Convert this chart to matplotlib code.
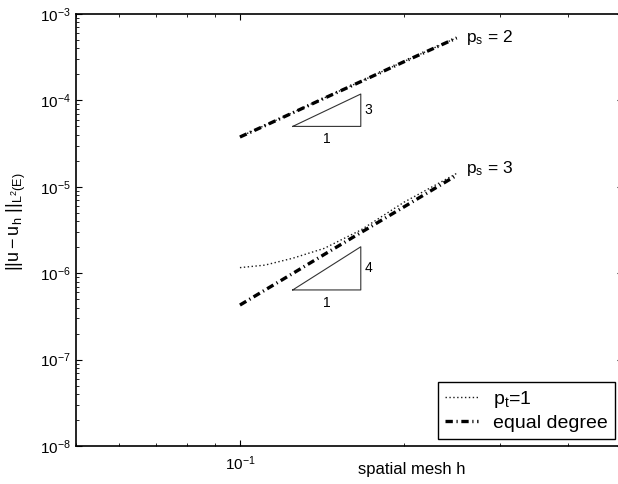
import numpy as np
import matplotlib
matplotlib.use("Agg")
import matplotlib.pyplot as plt

plt.rcParams['font.family'] = ['Liberation Sans', 'DejaVu Sans']
plt.rcParams['mathtext.fontset'] = 'custom'
plt.rcParams['mathtext.rm'] = 'Liberation Sans'
plt.rcParams['mathtext.it'] = 'Liberation Sans:italic'
plt.rcParams['mathtext.default'] = 'regular'

# mesh sizes h = 1/10 ... 1/4
h = [1/10, 1/9, 1/8, 1/7, 1/6, 1/5, 1/4]

# p_s = 2
err_eq_p2 = [3.77e-5, 5.10e-5, 7.18e-5, 1.06e-4, 1.65e-4, 2.80e-4, 5.28e-4]
err_pt1_p2 = [3.80e-5, 5.13e-5, 7.22e-5, 1.07e-4, 1.66e-4, 2.82e-4, 5.31e-4]
# p_s = 3
err_eq_p3 = [4.28e-7, 6.37e-7, 9.93e-7, 1.65e-6, 2.95e-6, 5.85e-6, 1.36e-5]
err_pt1_p3 = [1.16e-6, 1.24e-6, 1.49e-6, 1.94e-6, 3.16e-6, 6.62e-6, 1.43e-5]

# slope triangles
tri_h = [1/8, 1/6]
tri_base = [5.0e-5, 6.4e-7]
tri_rate = [3, 4]

fig = plt.figure(figsize=(6.18, 4.84), dpi=100)
ax = fig.add_axes([76/618, 38/484, 547/618, 432/484])

dot_kw = dict(color='0.1', lw=1.0, linestyle=(0, (1.0, 1.8)))
eq_kw = dict(color='black', lw=2.4, linestyle=(0, (2.2, 1.1, 0.35, 1.1)))

ax.loglog(h, err_pt1_p2, **dot_kw)
ax.loglog(h, err_eq_p2, **eq_kw)
l1, = ax.loglog(h, err_pt1_p3, label='$p_t$=1', **dot_kw)
l2, = ax.loglog(h, err_eq_p3, label='equal degree', **eq_kw)

for base, rate in zip(tri_base, tri_rate):
    top = base * (tri_h[1] / tri_h[0]) ** rate
    ax.plot([tri_h[0], tri_h[1], tri_h[1], tri_h[0]], [base, base, top, base],
            color='0.2', lw=0.8)
    xm = np.sqrt(tri_h[0] * tri_h[1])
    ym = np.sqrt(base * top)
    ax.annotate('1', (xm, base), xytext=(0, -4), textcoords='offset points',
                ha='center', va='top', fontsize=10)
    ax.annotate(str(rate), (tri_h[1], ym), xytext=(2.5, 0), textcoords='offset points',
                ha='left', va='center', fontsize=10)

ax.text(0.26, 5.4e-4, '$p_s$ = 2', fontsize=12.5, va='center', ha='left')
ax.text(0.26, 1.65e-5, '$p_s$ = 3', fontsize=12.5, va='center', ha='left')

ax.set_xlim(0.05, 0.505)
ax.set_ylim(1e-8, 1e-3)

ax.tick_params(which='both', direction='in', top=True, right=True, labelsize=11)
ax.tick_params(which='major', length=4, width=0.8, pad=4)
ax.tick_params(axis='x', which='major', pad=6)
ax.tick_params(which='minor', length=2.5, width=0.6)
for s in ax.spines.values():
    s.set_linewidth(1.2)

ax.set_xlabel('spatial mesh h', fontsize=12)
ax.xaxis.set_label_coords(0.613, -0.038)
ax.set_ylabel(r'$||\mathrm{u-u_h}\ ||_{\mathrm{L^2(E)}}$', fontsize=13)
ax.yaxis.set_label_coords(-0.088, 0.52)

leg = ax.legend(handles=[l1, l2], loc='upper left',
                bbox_to_anchor=(437.7/618, 1 - 381.7/484),
                bbox_transform=fig.transFigure, borderaxespad=0,
                fontsize=14, fancybox=False, framealpha=1,
                edgecolor='black', handlelength=1.7, handletextpad=0.8,
                borderpad=0.35, labelspacing=0.25)
leg.get_frame().set_linewidth(1.0)

fig.savefig('out.png', dpi=100)
